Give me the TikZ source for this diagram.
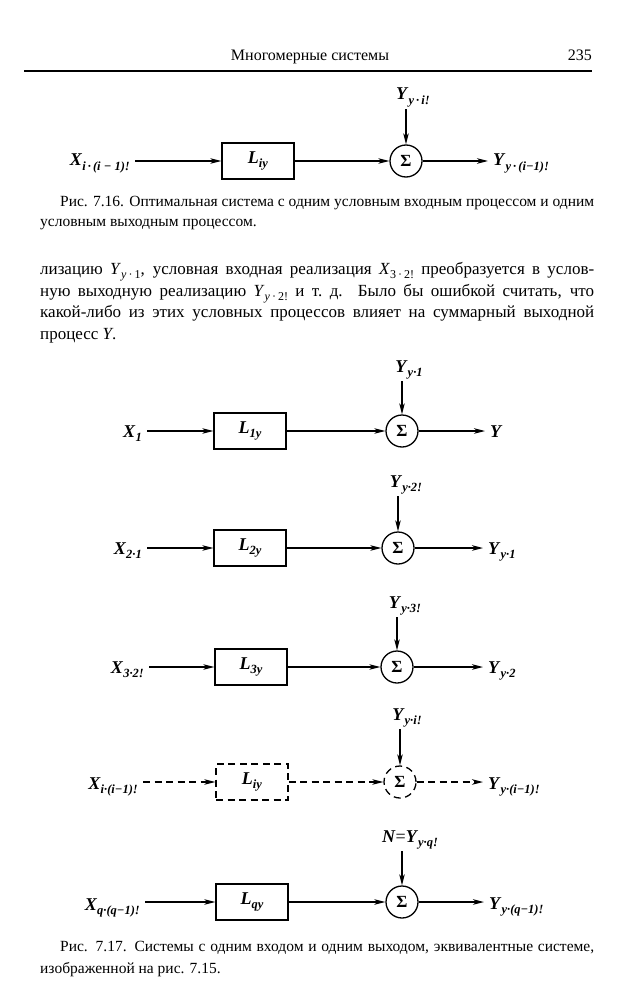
\documentclass[tikz,border=0pt]{standalone}
\usepackage{fontspec}
\setmainfont{Liberation Serif}
\usetikzlibrary{arrows.meta}
\newcommand{\lab}[2]{\textbf{\textit{#1}}\raisebox{-0.5ex}{\fontsize{12.5}{13}\selectfont\bfseries\itshape #2}}
\newcommand{\ilab}[2]{\textit{#1}\raisebox{-0.55ex}{\fontsize{12}{13}\selectfont #2}}

\begin{document}
\begin{tikzpicture}[
  x=1pt, y=-1pt,
  >=Stealth,
  lbl/.style={inner xsep=5pt, inner ysep=2pt, font=\fontsize{18}{18}\selectfont},
  blk/.style={draw, line width=1.3pt, minimum width=72pt, minimum height=36pt, inner sep=0pt, font=\fontsize{18}{18}\selectfont},
  sumc/.style={draw, circle, line width=1.3pt, minimum size=32pt, inner sep=0pt, font=\fontsize{17}{17}\selectfont\bfseries},
  arr/.style={-{Stealth[length=11pt,width=5.5pt,inset=3pt]}, line width=1.3pt},
  dsh/.style={dash pattern=on 7pt off 4.5pt},
  txt/.style={inner sep=0pt, anchor=north west, text width=554pt, align=justify},
]
\fill[white] (0,0) rectangle (617,1000);
\useasboundingbox (0,0) rectangle (617,1000);

\node[anchor=base, inner sep=0pt, font=\fontsize{16}{16}\selectfont] (hd) at (310,61) {Многомерные системы};
\node[anchor=base east, inner sep=0pt, font=\fontsize{16}{16}\selectfont] (pg) at (592,61) {235};
\draw[line width=1.3pt] (24,71) -- (592,71);

\node[lbl, anchor=base east] (x0) at (135,166) {\lab{X}{i\,·\,(i − 1)!}};
\node[blk] (l0) at (258,161) {\lab{L}{iy}};
\node[sumc] (s0) at (406,161) {Σ};
\node[lbl, anchor=base west] (y0) at (488,166) {\lab{Y}{y\,·\,(i−1)!}};
\node[lbl, anchor=base] (n0) at (413,100) {\lab{Y}{y\,·\,i!}};
\draw[arr] (x0.east |- l0) -- (l0);
\draw[arr] (l0) -- (s0);
\draw[arr] (s0) -- (s0 -| y0.west);
\draw[arr] (n0.south -| s0) -- (s0);

\node[txt, font=\fontsize{15.5}{20}\selectfont] (cap1) at (40,196) {\noindent\hspace*{20pt}Рис. 7.16. Оптимальная система с одним условным входным процессом и одним\linebreak условным выходным процессом.};

\node[txt, font=\fontsize{17}{21.8}\selectfont] (par) at (40,262) {\noindent лизацию \ilab{Y}{\textit{y}\,·\,1}, условная входная реализация \ilab{X}{3\,·\,2!} преобразуется в услов-\linebreak ную выходную реализацию \ilab{Y}{\textit{y}\,·\,2!} и т.~д. Было бы ошибкой считать, что\linebreak какой-либо из этих условных процессов влияет на суммарный выходной\linebreak процесс \textit{Y}.};

\node[lbl, anchor=base east] (x1) at (147,437) {\lab{X}{1}};
\node[blk] (l1) at (250,431) {\lab{L}{1y}};
\node[sumc] (s1) at (402,431) {Σ};
\node[lbl, anchor=base west] (y1) at (485,437) {\textbf{\textit{Y}}};
\node[lbl, anchor=base] (n1) at (409,372) {\lab{Y}{y·1}};
\draw[arr] (x1.east |- l1) -- (l1);
\draw[arr] (l1) -- (s1);
\draw[arr] (s1) -- (s1 -| y1.west);
\draw[arr] (n1.south -| s1) -- (s1);

\node[lbl, anchor=base east] (x2) at (147,554) {\lab{X}{2·1}};
\node[blk] (l2) at (250,548) {\lab{L}{2y}};
\node[sumc] (s2) at (398,548) {Σ};
\node[lbl, anchor=base west] (y2) at (483,554) {\lab{Y}{y·1}};
\node[lbl, anchor=base] (n2) at (406,487) {\lab{Y}{y·2!}};
\draw[arr] (x2.east |- l2) -- (l2);
\draw[arr] (l2) -- (s2);
\draw[arr] (s2) -- (s2 -| y2.west);
\draw[arr] (n2.south -| s2) -- (s2);

\node[lbl, anchor=base east] (x3) at (149,673) {\lab{X}{3·2!}};
\node[blk] (l3) at (251,667) {\lab{L}{3y}};
\node[sumc] (s3) at (397,667) {Σ};
\node[lbl, anchor=base west] (y3) at (483,673) {\lab{Y}{y·2}};
\node[lbl, anchor=base] (n3) at (405,608) {\lab{Y}{y·3!}};
\draw[arr] (x3.east |- l3) -- (l3);
\draw[arr] (l3) -- (s3);
\draw[arr] (s3) -- (s3 -| y3.west);
\draw[arr] (n3.south -| s3) -- (s3);

\node[lbl, anchor=base east] (x4) at (143,789) {\lab{X}{i·(i−1)!}};
\node[blk, dsh] (l4) at (252,782) {\lab{L}{iy}};
\node[sumc, dsh] (s4) at (400,782) {Σ};
\node[lbl, anchor=base west] (y4) at (483,789) {\lab{Y}{y·(i−1)!}};
\node[lbl, anchor=base] (n4) at (407,720) {\lab{Y}{y·i!}};
\draw[arr, dsh] (x4.east |- l4) -- (l4);
\draw[arr, dsh] (l4) -- (s4);
\draw[arr, dsh] (s4) -- (s4 -| y4.west);
\draw[arr] (n4.south -| s4) -- (s4);

\node[lbl, anchor=base east] (x5) at (145,910) {\lab{X}{q·(q−1)!}};
\node[blk] (l5) at (252,902) {\lab{L}{qy}};
\node[sumc] (s5) at (402,902) {Σ};
\node[lbl, anchor=base west] (y5) at (484,909) {\lab{Y}{y·(q−1)!}};
\node[lbl, anchor=base] (n5) at (410,842) {\textbf{\textit{N}}=\lab{Y}{y·q!}};
\draw[arr] (x5.east |- l5) -- (l5);
\draw[arr] (l5) -- (s5);
\draw[arr] (s5) -- (s5 -| y5.west);
\draw[arr] (n5.south -| s5) -- (s5);

\node[txt, font=\fontsize{15.5}{22}\selectfont] (cap2) at (40,941) {\noindent\hspace*{20pt}Рис. 7.17. Системы с одним входом и одним выходом, эквивалентные системе,\linebreak изображенной на рис. 7.15.};
\end{tikzpicture}
\end{document}
